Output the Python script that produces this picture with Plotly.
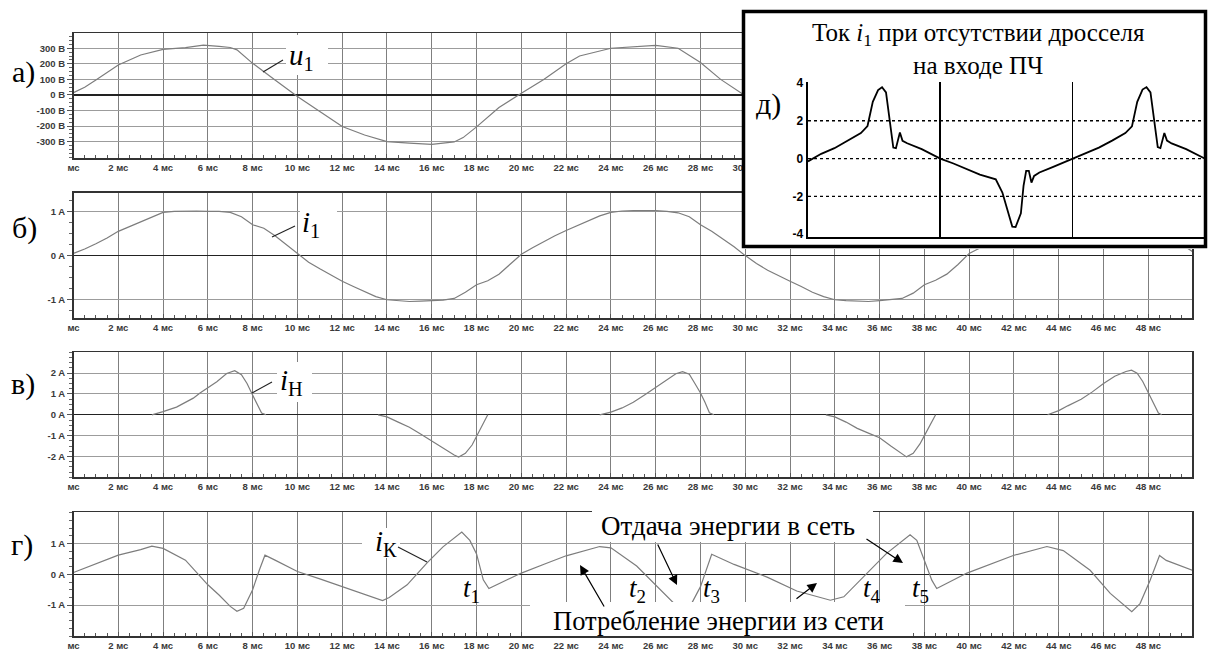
import plotly.graph_objects as go

W, H = 1208, 649
def PX(x): return x / W
def PY(y): return 1 - y / H

# ---------------- data ----------------
x_tickvals = [0, 2, 4, 6, 8, 10, 12, 14, 16, 18, 20, 22, 24, 26, 28, 30, 32, 34, 36, 38, 40, 42, 44, 46, 48]
x_ticktext = ["мс", "2 мс", "4 мс", "6 мс", "8 мс", "10 мс", "12 мс", "14 мс", "16 мс", "18 мс",
              "20 мс", "22 мс", "24 мс", "26 мс", "28 мс", "30 мс", "32 мс", "34 мс", "36 мс",
              "38 мс", "40 мс", "42 мс", "44 мс", "46 мс", "48 мс"]

# а) u1 voltage
t_u = [0, 0.5, 1, 2, 3, 4, 5, 5.8, 6.5, 7, 7.3, 8, 9, 10, 11, 12, 13, 14, 15, 16, 17, 17.4,
       18, 19, 20, 21, 22, 22.6, 24, 25, 26, 27, 28, 28.9, 30]
u1 = [15, 49, 96, 193, 257, 293, 304, 320, 312, 305, 290, 203, 96, -10, -107, -203, -257, -300,
      -310, -317, -302, -274, -205, -81, 11, 100, 201, 250, 300, 310, 319, 300, 208, 100, -5]
u_tickvals = [300, 200, 100, 0, -100, -200, -300]
u_ticktext = ["300 В", "200 В", "100 В", "0 В", "-100 В", "-200 В", "-300 В"]

# б) i1 current
t_i1 = [0, 0.5, 1, 1.5, 2, 2.5, 3, 3.5, 4, 4.5, 5, 5.5, 6, 6.5, 7, 7.5, 8, 8.5, 9, 9.5,
        10, 10.5, 11, 11.5, 12, 12.5, 13, 13.5, 14, 14.5, 15, 15.5, 16, 16.5, 17, 17.5, 18, 18.5, 19, 19.5,
        20, 20.5, 21, 21.5, 22, 22.5, 23, 23.5, 24, 24.5, 25, 25.5, 26, 26.5, 27, 27.5, 28, 28.5, 29, 29.5,
        30, 30.5, 31, 31.5, 32, 32.5, 33, 33.5, 34, 34.5, 35, 35.5, 36, 36.5, 37, 37.5, 38, 38.5, 39, 39.5,
        40, 40.5, 41, 42, 43, 44, 45, 46, 47, 48, 49, 49.5, 50]
i1 = [0.05, 0.15, 0.27, 0.40, 0.55, 0.66, 0.77, 0.88, 0.98, 1.00, 1.01, 1.01, 1.00, 1.00, 0.98, 0.88, 0.70, 0.62, 0.45, 0.25,
      0.03, -0.15, -0.30, -0.44, -0.58, -0.70, -0.82, -0.93, -1.00, -1.02, -1.04, -1.03, -1.02, -1.01, -0.97, -0.83, -0.66, -0.57, -0.42, -0.20,
      0.03, 0.18, 0.32, 0.45, 0.57, 0.68, 0.80, 0.90, 0.98, 1.01, 1.02, 1.02, 1.02, 1.00, 0.97, 0.88, 0.70, 0.55, 0.38, 0.20,
      0.00, -0.18, -0.33, -0.46, -0.58, -0.70, -0.83, -0.93, -1.00, -1.02, -1.03, -1.04, -1.02, -1.00, -0.97, -0.85, -0.66, -0.56, -0.42, -0.20,
      0.05, 0.18, 0.32, 0.57, 0.80, 0.98, 1.01, 1.00, 0.97, 0.70, 0.42, 0.25, 0.08]
i1_tickvals = [1, 0, -1]
i1_ticktext = ["1 A", "0 A", "-1 A"]

# в) iН current (pulses)
t_h = [3.5, 4.0, 4.6, 5.0, 5.35, 5.65, 6.0, 6.4, 6.84, 7.2, 7.5, 7.75, 7.96, 8.2, 8.4, 8.6, None,
       13.6, 14.0, 14.5, 15.0, 15.5, 16.0, 16.5, 17.0, 17.2, 17.5, 17.8, 18.0, 18.25, 18.5, None,
       23.5, 24.0, 24.5, 25.0, 25.5, 26.0, 26.5, 26.9, 27.2, 27.5, 27.75, 28.0, 28.2, 28.4, 28.6, None,
       33.6, 34.0, 34.5, 35.0, 35.5, 36.0, 36.5, 37.0, 37.2, 37.5, 37.8, 38.0, 38.25, 38.5, None,
       43.5, 44.0, 44.4, 45.0, 45.5, 46.0, 46.5, 47.0, 47.25, 47.5, 47.75, 48.0, 48.2, 48.45, 48.6]
i_h = [0, 0.15, 0.37, 0.58, 0.80, 1.05, 1.30, 1.59, 1.98, 2.12, 1.92, 1.50, 1.03, 0.55, 0.08, 0.0, None,
       0, -0.10, -0.35, -0.60, -0.92, -1.27, -1.60, -1.93, -2.03, -1.85, -1.45, -1.03, -0.50, 0.0, None,
       0, 0.13, 0.33, 0.60, 0.95, 1.30, 1.65, 1.97, 2.07, 1.95, 1.50, 1.05, 0.60, 0.10, 0.0, None,
       0, -0.10, -0.35, -0.65, -0.88, -1.10, -1.50, -1.90, -2.02, -1.85, -1.40, -1.00, -0.50, 0.0, None,
       0, 0.20, 0.43, 0.75, 1.10, 1.50, 1.85, 2.08, 2.14, 2.00, 1.60, 1.05, 0.60, 0.08, 0.0]
ih_tickvals = [2, 1, 0, -1, -2]
ih_ticktext = ["2 A", "1 A", "0 A", "-1 A", "-2 A"]

# г) iК current
t_k = [0, 1, 2, 3, 3.5, 4.0, 5.0, 6.0, 6.5, 7.0, 7.3, 7.6, 8.0, 8.3, 8.55, 9.0, 10.0, 11.0, 12.0, 13.0,
       13.8, 14.1, 14.9, 15.8, 16.5, 17.34, 17.7, 18.0, 18.3, 18.55, 19.2, 20.0, 21.1, 22.0, 23.5, 24.0,
       25.15, 26.05, 26.7, 27.1, 27.35, 27.6, 28.0, 28.25, 28.5, 29.5, 31.0, 32.3, 33.8, 34.4, 35.4, 36.3,
       37.36, 37.66, 38.0, 38.33, 38.55, 39.9, 41.97, 43.47, 44.2, 45.4, 46.3, 47.26, 47.63, 48.08, 48.5, 48.8, 50.0]
i_k = [0.06, 0.35, 0.62, 0.80, 0.91, 0.84, 0.46, -0.34, -0.67, -1.04, -1.20, -1.10, -0.50, 0.14, 0.62, 0.46, 0.09, -0.15, -0.40, -0.67,
       -0.85, -0.75, -0.34, 0.38, 0.89, 1.37, 1.10, 0.66, -0.18, -0.46, -0.24, 0.04, 0.35, 0.60, 0.90, 0.86,
       0.27, -0.38, -0.86, -1.15, -1.20, -0.95, -0.40, 0.15, 0.65, 0.32, -0.10, -0.54, -0.84, -0.73, 0.02, 0.67,
       1.28, 1.10, 0.45, -0.19, -0.46, 0.04, 0.61, 0.90, 0.77, 0.13, -0.62, -1.21, -0.95, -0.19, 0.61, 0.45, 0.12]
ik_tickvals = [1, 0, -1]
ik_ticktext = ["1 A", "0 A", "-1 A"]

# д) inset: i1 without choke
t_d = [0, 1, 2, 3, 3.4, 4.0, 4.5, 4.9, 5.3, 5.6, 5.9, 6.15, 6.45, 6.65, 6.95, 7.15, 7.5, 8.6, 10,
       11, 12, 13, 14.2, 14.7, 15.2, 15.45, 15.7, 16.1, 16.3, 16.5, 16.7, 16.9, 17.1, 17.5, 18.5, 20,
       21, 22, 23, 23.4, 24.0, 24.5, 24.9, 25.3, 25.6, 25.9, 26.15, 26.45, 26.65, 26.95, 27.15, 27.5, 28.6, 30]
i_d = [-0.15, 0.25, 0.55, 0.95, 1.12, 1.35, 1.72, 3.00, 3.62, 3.77, 3.50, 2.27, 0.58, 0.55, 1.38, 0.94, 0.81, 0.50, 0.0,
       -0.26, -0.55, -0.85, -1.10, -1.80, -3.00, -3.60, -3.62, -2.90, -1.45, -0.65, -0.65, -1.27, -0.92, -0.74, -0.45, 0.0,
       0.28, 0.58, 0.95, 1.10, 1.35, 1.70, 3.00, 3.65, 3.78, 3.50, 2.30, 0.60, 0.55, 1.35, 0.95, 0.80, 0.50, 0.0]
d_tickvals = [4, 2, 0, -2, -4]
d_ticktext = ["4", "2", "0", "-2", "-4"]
d_dotted = [2, 0, -2]
d_solid = [10, 20]

# ---------------- figure ----------------
fig = go.Figure()
LINE = dict(color="#7d7d7d", width=1.2)
panels = [(t_u, u1, "x", "y"), (t_i1, i1, "x2", "y2"), (t_h, i_h, "x3", "y3"), (t_k, i_k, "x4", "y4")]
for xs, ys, xa, ya in panels:
    fig.add_trace(go.Scatter(x=xs, y=ys, mode="lines", line=LINE, xaxis=xa, yaxis=ya,
                             showlegend=False, hoverinfo="skip", connectgaps=False))
# white cover of the inset box (own subplot -> own background above the panels)
fig.add_trace(go.Scatter(x=[], y=[], xaxis="x5", yaxis="y5", showlegend=False, hoverinfo="skip"))
# inset waveform
fig.add_trace(go.Scatter(x=t_d, y=i_d, mode="lines", line=dict(color="black", width=1.8),
                         xaxis="x6", yaxis="y6", showlegend=False, hoverinfo="skip"))

XD = [PX(73.5), PX(1192)]
TICKFONT = dict(family="Liberation Sans", size=9.5, color="#3a3a3a", weight="bold")

def xaxis_cfg(anchor):
    return dict(domain=XD, anchor=anchor, range=[0, 49.95], tickmode="array", automargin=False,
                tickvals=x_tickvals, ticktext=x_ticktext, tickfont=TICKFONT,
                ticks="inside", ticklen=4, tickcolor="#555",
                minor=dict(dtick=0.5, ticks="inside", ticklen=3, tickcolor="#555", showgrid=False),
                showgrid=True, gridcolor="#7f7f7f", gridwidth=1, zeroline=False,
                showline=True, mirror=True, linecolor="#333", linewidth=1.5, fixedrange=True)

def yaxis_cfg(anchor, dom, rng, tv, tt, mdt):
    return dict(domain=dom, anchor=anchor, range=rng, tickmode="array", tickvals=tv, ticktext=tt,
                automargin=False, tickfont=TICKFONT, ticks="outside", ticklen=5, tickcolor="#555",
                minor=dict(dtick=mdt, ticks="outside", ticklen=3, tickcolor="#666", showgrid=False),
                showgrid=True, gridcolor="#9c9c9c", gridwidth=1,
                zeroline=True, zerolinecolor="#222", zerolinewidth=1.4,
                showline=True, mirror=True, linecolor="#333", linewidth=1.5, fixedrange=True)

layout = dict(
    width=W, height=H, autosize=False, margin=dict(l=0, r=0, t=0, b=0, pad=0),
    paper_bgcolor="white", plot_bgcolor="white", showlegend=False,
    xaxis=xaxis_cfg("y"),
    yaxis=yaxis_cfg("x", [PY(158), PY(33)], [-405, 398], u_tickvals, u_ticktext, 25),
    xaxis2=xaxis_cfg("y2"),
    yaxis2=yaxis_cfg("x2", [PY(318.3), PY(192.7)], [-1.42, 1.425], i1_tickvals, i1_ticktext, 0.25),
    xaxis3=xaxis_cfg("y3"),
    yaxis3=yaxis_cfg("x3", [PY(477.3), PY(352.3)], [-3, 3], ih_tickvals, ih_ticktext, 0.25),
    xaxis4=xaxis_cfg("y4"),
    yaxis4=yaxis_cfg("x4", [PY(636), PY(512.3)], [-2, 2.01], ik_tickvals, ik_ticktext, 0.25),
    xaxis5=dict(domain=[PX(742), 1.0], anchor="y5", range=[0, 1], visible=False, fixedrange=True,
                automargin=False),
    yaxis5=dict(domain=[PY(249), PY(9)], anchor="x5", range=[0, 1], visible=False, fixedrange=True,
                automargin=False),
    xaxis6=dict(domain=[PX(808), PX(1206)], anchor="y6", range=[0, 30.1], tickmode="array",
                tickvals=d_solid, showticklabels=False, ticks="", showgrid=True, gridcolor="black",
                gridwidth=1.5, zeroline=False, showline=True, linecolor="black", linewidth=1.5,
                fixedrange=True, automargin=False),
    yaxis6=dict(domain=[PY(237), PY(82)], anchor="x6", range=[-4.15, 4.05], tickmode="array",
                tickvals=d_tickvals, ticktext=d_ticktext, ticks="", automargin=False,
                tickfont=dict(family="Liberation Sans", size=12, color="black", weight="bold"),
                showgrid=False, zeroline=False, showline=True, linecolor="black", linewidth=2.5,
                fixedrange=True),
)
fig.update_layout(**layout)

shapes = []
# white patches behind labels
for x0, y0, x1, y1 in [(286, 35, 328, 75), (300, 205, 337, 245), (277, 362, 312, 402),
                       (362, 528, 400, 558), (592, 505, 873, 542), (530, 602, 905, 636)]:
    shapes.append(dict(type="rect", xref="paper", yref="paper", x0=PX(x0), x1=PX(x1),
                       y0=PY(y1), y1=PY(y0), fillcolor="white", line=dict(width=0), layer="above"))
# leader lines
for x0, y0, x1, y1 in [(263, 72, 283, 60), (272, 237, 295, 226), (252, 393, 272, 382), (398, 547, 427, 562)]:
    shapes.append(dict(type="line", xref="paper", yref="paper", x0=PX(x0), y0=PY(y0), x1=PX(x1), y1=PY(y1),
                       line=dict(color="#222", width=1.1), layer="above"))
# dotted gridlines of inset
for v in d_dotted:
    shapes.append(dict(type="line", xref="x6", yref="y6", x0=0, x1=30.1, y0=v, y1=v,
                       line=dict(color="black", width=1.3, dash="dot"), layer="below"))
# inset border
shapes.append(dict(type="rect", xref="paper", yref="paper", x0=PX(743.5), x1=PX(1205.5),
                   y0=PY(246.5), y1=PY(11.5), line=dict(color="black", width=3.5), layer="above"))
fig.update_layout(shapes=shapes)

SERIF = "Liberation Serif"
anns = []
def txt(text, x, y, size, xanchor="center"):
    anns.append(dict(text=text, x=PX(x), y=PY(y), xref="paper", yref="paper", showarrow=False,
                     xanchor=xanchor, yanchor="middle", font=dict(family=SERIF, size=size, color="black")))

for lab, x, y in [("а)", 23, 72), ("б)", 24, 228), ("в)", 23, 384), ("г)", 22, 545), ("д)", 768, 104)]:
    txt(lab, x, y, 30)

txt("<i>u</i><sub>1</sub>", 301, 57, 29)
txt("<i>i</i><sub>1</sub>", 311, 224, 29)
txt("<i>i</i><sub>Н</sub>", 291, 382, 29)
txt("<i>i</i><sub>К</sub>", 386, 543, 29)
for lab, x in [("1", 471), ("2", 637), ("3", 711), ("4", 872), ("5", 920)]:
    txt("<i>t</i><sub>" + lab + "</sub>", x, 590, 27)
txt("Отдача энергии в сеть", 728, 526, 27)
txt("Потребление энергии из сети", 718, 621, 26.5)
txt("Ток <i>i</i><sub>1</sub> при отсутствии дросселя<br>на входе ПЧ", 978, 49, 25)

# arrows: (head x, head y, tail x, tail y)
for hx, hy, tx, ty in [(677, 585, 657, 543), (903, 563, 865, 538), (580, 565, 605, 608), (817, 583, 795, 600)]:
    anns.append(dict(text="", x=PX(hx), y=PY(hy), xref="paper", yref="paper", showarrow=True,
                     ax=tx - hx, ay=ty - hy, axref="pixel", ayref="pixel",
                     arrowhead=2, arrowsize=1.6, arrowwidth=1.2, arrowcolor="black", standoff=0))
fig.update_layout(annotations=anns)

fig.write_html("out.html",
               config={"displayModeBar": False, "staticPlot": True},
               post_script="document.body.style.margin='0px';"
                           "document.documentElement.style.overflow='hidden';"
                           "document.body.style.overflow='hidden';")
